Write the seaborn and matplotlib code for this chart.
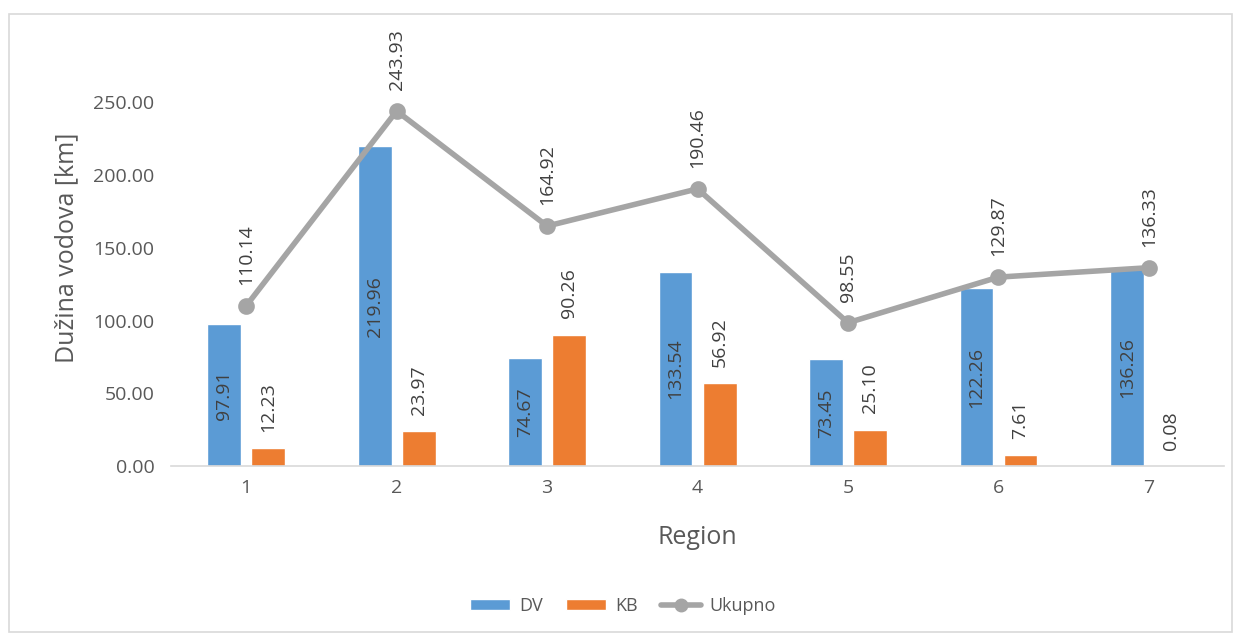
import numpy as np
import pandas as pd
import matplotlib.pyplot as plt
import seaborn as sns
from matplotlib.patches import Patch, Rectangle
from matplotlib.lines import Line2D

# values
regions = ['1', '2', '3', '4', '5', '6', '7']
dv = [97.91, 219.96, 74.67, 133.54, 73.45, 122.26, 136.26]
kb = [12.23, 23.97, 90.26, 56.92, 25.10, 7.61, 0.08]
ukupno = [110.14, 243.93, 164.92, 190.46, 98.55, 129.87, 136.33]

blue = '#5B9BD5'
orange = '#ED7D31'
gray = '#A5A5A5'
txt = '#595959'

sns.set_style('white')
plt.rcParams['font.family'] = ['Open Sans', 'DejaVu Sans']

bars_df = pd.DataFrame({'Region': regions * 2,
                        'Serija': ['DV'] * len(regions) + ['KB'] * len(regions),
                        'Vrijednost': dv + kb})
line_df = pd.DataFrame({'Region': regions, 'Ukupno': ukupno})

fig = plt.figure(figsize=(12.39, 6.37), dpi=100)
ax = fig.add_axes([0.138, 0.268, 0.850, 0.686])

sns.barplot(data=bars_df, x='Region', y='Vrijednost', hue='Serija',
            palette=[blue, orange], width=0.585, gap=0.23,
            saturation=1, legend=False, ax=ax)
sns.pointplot(data=line_df, x='Region', y='Ukupno', color=gray,
              markers='o', linewidth=4, markersize=9, ax=ax)

# data labels
dv_bars = ax.containers[0]
kb_bars = ax.containers[1]
for rect, v in zip(dv_bars, dv):
    ax.text(rect.get_x() + rect.get_width() / 2, v / 2, f'{v:.2f}',
            rotation=90, ha='center', va='center', fontsize=14, color='#404040')
for rect, v in zip(kb_bars, kb):
    ax.annotate(f'{v:.2f}', (rect.get_x() + rect.get_width() / 2, v),
                xytext=(0, 12), textcoords='offset points',
                rotation=90, ha='center', va='bottom', fontsize=14, color='#404040')
for i, v in enumerate(ukupno):
    ax.annotate(f'{v:.2f}', (i, v), xytext=(0, 15), textcoords='offset points',
                rotation=90, ha='center', va='bottom', fontsize=14, color='#404040')

ax.set_ylim(0, 300)
ax.set_xlim(-0.5, len(regions) - 0.5)
ax.set_yticks([0, 50, 100, 150, 200, 250])
ax.set_yticklabels([f'{t:.2f}' for t in [0, 50, 100, 150, 200, 250]])
ax.tick_params(axis='both', labelsize=14, colors=txt, length=0)
ax.tick_params(axis='x', pad=9)
ax.tick_params(axis='y', pad=12)
for s in ['top', 'right', 'left']:
    ax.spines[s].set_visible(False)
ax.spines['bottom'].set_color('#D9D9D9')
ax.spines['bottom'].set_linewidth(1.2)

ax.set_xlabel('Region', fontsize=18, color=txt, labelpad=20)
ax.set_ylabel('Dužina vodova [km]', fontsize=18, color=txt, labelpad=10)

handles = [Patch(facecolor=blue, label='DV'),
           Patch(facecolor=orange, label='KB'),
           Line2D([], [], color=gray, lw=4, marker='o', markersize=9, label='Ukupno')]
leg = fig.legend(handles=handles, loc='center', bbox_to_anchor=(0.503, 0.049), ncol=3,
                 frameon=False, fontsize=13, handlelength=2.2, handleheight=0.6,
                 handletextpad=0.5, columnspacing=1.3)
for t in leg.get_texts():
    t.set_color(txt)

# chart border
fig.patches.append(Rectangle((0.007, 0.008), 0.987, 0.97, transform=fig.transFigure,
                             fill=False, edgecolor='#D9D9D9', lw=1.2))

fig.savefig('out.png', dpi=100)
